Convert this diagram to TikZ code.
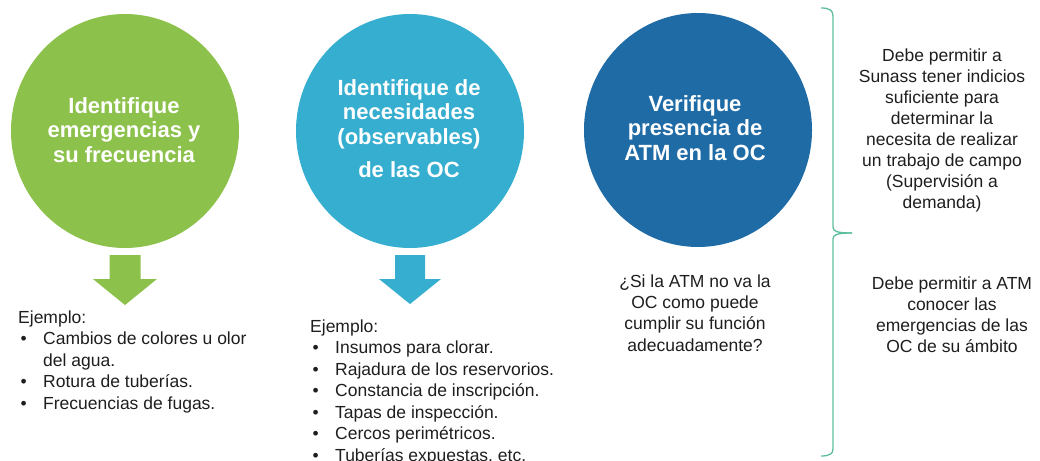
\documentclass[tikz,border=0pt]{standalone}
\usepackage{fontspec}
\setmainfont{Liberation Sans}
\usetikzlibrary{shapes.geometric}
\definecolor{cgreen}{HTML}{8CC14B}
\definecolor{clblue}{HTML}{35AECF}
\definecolor{cdblue}{HTML}{1F6BA6}
\definecolor{cbrace}{HTML}{5DBE9C}
\definecolor{ctext}{HTML}{1E1E1E}
\newcommand\lbul{\makebox[25pt][l]{\hspace*{2.5pt}•}}
\begin{document}
\begin{tikzpicture}[x=1pt,y=-1pt,
  bubble/.style={ellipse, minimum width=228pt, minimum height=234pt, inner sep=0pt, draw=none},
  bubtxt/.style={text=white, font=\fontsize{22}{24.5}\selectfont\bfseries, align=center, inner sep=0pt, anchor=base},
  listtxt/.style={text=ctext, font=\fontsize{17.5}{21.5}\selectfont, align=left, inner sep=0pt, anchor=base west},
  sidetxt/.style={text=ctext, font=\fontsize{17.5}{21}\selectfont, align=center, inner sep=0pt, anchor=base},
  bracel/.style={draw=cbrace, line width=1.3pt}
]
\useasboundingbox (0,0) rectangle (1040,460);

% circles
\node[bubble, fill=cgreen] (c1) at (125,131) {};
\node[bubble, fill=clblue] (c2) at (410,131) {};
\node[bubble, fill=cdblue] (c3) at (698,130) {};

\node[bubtxt] (t1) at (124,162) {Identifique\\emergencias y\\su frecuencia};
\node[bubtxt] (t2) at (409,177) {Identifique de\\necesidades\\(observables)\\[8.5pt]de las OC};
\node[bubtxt] (t3) at (695,160) {Verifique\\presencia de\\ATM en la OC};

% block arrows
\begin{scope}[shift={(c1.center)}]
  \fill[cgreen] (-15.5,124) -- (15.5,124) -- (15.5,148) -- (32,148) -- (0,174) -- (-32,148) -- (-15.5,148) -- cycle;
\end{scope}
\begin{scope}[shift={(c2.center)}]
  \fill[clblue] (-15,124) -- (15,124) -- (15,148) -- (31,148) -- (0,173) -- (-31,148) -- (-15,148) -- cycle;
\end{scope}

% lists
\node[listtxt] (ex1) at (18,409) {Ejemplo:\\\lbul Cambios de colores u olor\\\hspace*{25pt}del agua.\\\lbul Rotura de tuberías.\\\lbul Frecuencias de fugas.};
\node[listtxt] (ex2) at (310,461) {Ejemplo:\\\lbul Insumos para clorar.\\\lbul Rajadura de los reservorios.\\\lbul Constancia de inscripción.\\\lbul Tapas de inspección.\\\lbul Cercos perimétricos.\\\lbul Tuberías expuestas, etc.};

% question
\node[sidetxt, font=\fontsize{17.5}{21.3}\selectfont] (q) at (695,351) {¿Si la ATM no va la\\OC como puede\\cumplir su función\\adecuadamente?};

% brace
\coordinate (btop) at (821,8);
\coordinate (btip) at (852,233);
\coordinate (bbot) at (821,456);
\draw[bracel] (btop) .. controls (829,8) and (833,10) .. (833,16) -- (833,227) .. controls (833,231) and (836,233) .. (btip);
\draw[bracel] (btip) .. controls (836,233) and (833,235) .. (833,239) -- (833,449) .. controls (833,454) and (829,456) .. (bbot);

% right texts
\node[sidetxt, font=\fontsize{17.5}{20.9}\selectfont] (r1) at (942,208) {Debe permitir a\\Sunass tener indicios\\suficiente para\\determinar la\\necesita de realizar\\un trabajo de campo\\(Supervisión a\\demanda)};
\node[sidetxt, font=\fontsize{17.5}{20.7}\selectfont] (r2) at (952,352) {Debe permitir a ATM\\conocer las\\emergencias de las\\OC de su ámbito};
\end{tikzpicture}
\end{document}
